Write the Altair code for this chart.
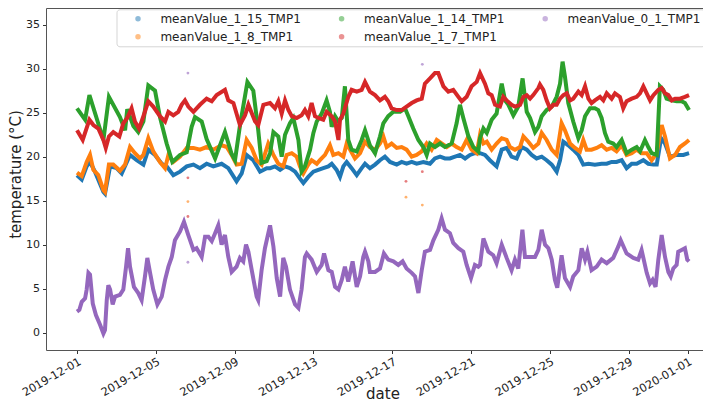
import altair as alt
import pandas as pd

SERIES = ["meanValue_1_15_TMP1", "meanValue_1_8_TMP1", "meanValue_1_14_TMP1",
          "meanValue_1_7_TMP1", "meanValue_0_1_TMP1"]
COLORS = ["#1f77b4", "#ff7f0e", "#2ca02c", "#d62728", "#9467bd"]

X_TICKS = ["2019-12-01", "2019-12-05", "2019-12-09", "2019-12-13", "2019-12-17",
           "2019-12-21", "2019-12-25", "2019-12-29", "2020-01-01"]
Y_TICKS = [0, 5, 10, 15, 20, 25, 30, 35]

# (days since 2019-12-01 00:00, temperature °C)
s_1_15 = [(0, 17.9), (0.24, 17.4), (0.49, 18.9), (0.66, 19.4), (0.91, 18.3), (1.34, 16.0),
          (1.42, 15.8), (1.68, 18.9), (2.01, 18.7), (2.27, 18.1), (2.69, 20.2), (3.03, 19.6),
          (3.37, 19.1), (3.62, 20.8), (3.96, 20.2), (4.30, 19.2), (4.55, 18.9), (4.89, 17.9),
          (5.23, 18.3), (5.57, 18.9), (5.91, 19.1), (6.24, 18.7), (6.58, 19.2), (6.92, 18.9),
          (7.34, 19.2), (7.68, 18.7), (8.10, 17.2), (8.36, 18.1), (8.61, 20.2), (8.95, 19.6),
          (9.29, 18.3), (9.63, 18.7), (9.80, 18.7), (10.05, 18.9), (10.31, 18.5), (10.56, 18.9),
          (10.81, 18.7), (11.07, 18.3), (11.32, 17.5), (11.49, 17.0), (11.74, 17.7), (12.00, 18.3),
          (12.25, 18.5), (12.50, 18.7), (12.76, 18.9), (12.93, 19.2), (13.18, 18.5), (13.35, 17.7),
          (13.52, 18.9), (13.69, 19.4), (13.94, 18.7), (14.20, 17.9), (14.45, 18.7), (14.62, 19.2),
          (14.87, 18.7), (15.13, 19.1), (15.38, 19.6), (15.63, 20.0), (15.89, 19.4), (16.23, 19.1),
          (16.48, 19.4), (16.73, 19.2), (16.99, 19.4), (17.24, 19.2), (17.58, 19.4), (17.92, 19.2),
          (18.17, 19.8), (18.43, 20.0), (18.68, 19.8), (18.93, 19.8), (19.19, 20.0), (19.44, 20.2),
          (19.70, 19.8), (19.95, 20.2), (20.20, 20.4), (20.46, 20.4), (20.71, 20.2), (20.96, 19.6),
          (21.30, 18.9), (21.56, 20.8), (21.81, 21.0), (22.06, 20.0), (22.32, 19.8), (22.57, 21.1),
          (22.83, 20.8), (23.08, 20.2), (23.33, 19.8), (23.59, 20.0), (23.84, 19.6), (24.10, 19.1),
          (24.35, 18.3), (24.52, 19.6), (24.69, 21.7), (24.94, 21.3), (25.19, 20.8), (25.45, 20.2),
          (25.70, 19.1), (25.96, 19.2), (26.29, 19.1), (26.63, 19.2), (26.89, 19.2), (27.14, 19.4),
          (27.39, 19.4), (27.65, 19.6), (27.90, 18.7), (28.16, 19.2), (28.41, 19.2), (28.75, 19.6),
          (29.00, 19.2), (29.26, 19.1), (29.43, 19.1), (29.65, 22.1), (29.85, 21.5), (30.10, 20.0),
          (30.44, 20.2), (30.78, 20.2), (31.07, 20.4)]

s_1_8 = [(0, 18.2), (0.24, 17.8), (0.49, 19.4), (0.66, 20.2), (0.83, 18.5), (1.08, 17.9),
         (1.34, 16.2), (1.42, 16.0), (1.62, 19.1), (1.84, 19.1), (2.18, 18.4), (2.44, 19.1),
         (2.69, 21.1), (2.94, 20.4), (3.20, 19.8), (3.37, 20.2), (3.62, 22.1), (3.87, 20.6),
         (4.21, 19.4), (4.47, 18.7), (4.64, 20.2), (4.89, 19.4), (5.23, 20.0), (5.57, 21.0),
         (5.91, 21.0), (6.24, 20.8), (6.58, 21.1), (6.92, 20.8), (7.34, 21.3), (7.60, 21.1),
         (7.85, 20.2), (8.10, 19.1), (8.36, 19.2), (8.61, 21.9), (8.87, 21.0), (9.12, 19.6),
         (9.37, 19.1), (9.71, 21.5), (9.80, 21.1), (9.97, 20.2), (10.22, 19.2), (10.47, 18.9),
         (10.64, 20.2), (10.90, 20.4), (11.15, 20.0), (11.32, 18.9), (11.49, 18.1), (11.74, 19.1),
         (11.91, 19.6), (12.17, 19.2), (12.33, 19.6), (12.59, 20.2), (12.84, 21.3), (13.01, 20.2),
         (13.27, 20.4), (13.52, 20.0), (13.69, 21.5), (13.86, 20.8), (14.11, 19.8), (14.37, 20.4),
         (14.62, 21.7), (14.87, 21.1), (15.13, 20.8), (15.38, 21.5), (15.55, 22.3), (15.72, 21.1),
         (15.97, 21.5), (16.23, 21.0), (16.48, 21.1), (16.73, 20.8), (16.99, 20.0), (17.24, 20.2),
         (17.50, 20.6), (17.75, 21.5), (18.00, 20.8), (18.26, 21.9), (18.51, 21.5), (18.77, 21.1),
         (19.02, 21.5), (19.27, 21.1), (19.53, 20.8), (19.78, 21.9), (20.03, 20.8), (20.29, 20.4),
         (20.46, 22.5), (20.63, 21.5), (20.80, 21.7), (21.05, 20.8), (21.30, 21.5), (21.56, 22.1),
         (21.81, 21.9), (21.98, 21.1), (22.23, 20.8), (22.49, 21.1), (22.66, 22.3), (22.91, 21.7),
         (23.16, 21.0), (23.42, 21.5), (23.59, 22.7), (23.84, 21.9), (24.10, 20.8), (24.35, 20.2),
         (24.60, 23.8), (24.77, 23.0), (25.03, 21.5), (25.28, 21.0), (25.53, 20.6), (25.70, 21.9),
         (25.87, 20.8), (26.12, 20.8), (26.38, 21.0), (26.63, 21.3), (26.89, 20.8), (27.14, 21.0),
         (27.39, 20.6), (27.65, 21.3), (27.90, 20.2), (28.16, 20.4), (28.41, 20.8), (28.66, 20.4),
         (28.92, 20.4), (29.17, 19.6), (29.43, 20.4), (29.68, 23.6), (29.85, 22.3), (30.10, 19.8),
         (30.36, 20.2), (30.61, 21.1), (30.86, 21.5), (31.07, 21.9)]

s_1_14 = [(0, 25.5), (0.41, 24.2), (0.63, 27.0), (1.34, 21.9), (1.62, 26.8), (2.18, 24.5),
          (2.44, 23.0), (2.55, 25.4), (2.86, 23.5), (3.11, 22.8), (3.37, 24.0), (3.62, 28.1),
          (3.96, 27.5), (4.21, 24.5), (4.55, 21.5), (4.84, 19.4), (5.23, 20.2), (5.57, 20.5),
          (5.82, 23.4), (5.99, 24.5), (6.33, 24.0), (6.58, 22.0), (7.01, 19.8), (7.51, 22.8),
          (7.85, 20.3), (8.02, 19.6), (8.27, 23.5), (8.65, 28.5), (8.95, 27.5), (9.20, 23.0),
          (9.37, 19.3), (9.63, 19.5), (9.80, 20.4), (9.97, 22.8), (10.22, 22.3), (10.39, 20.0),
          (10.56, 22.5), (10.81, 23.8), (10.98, 24.4), (11.24, 21.9), (11.40, 18.3), (11.57, 18.9),
          (11.83, 20.8), (12.00, 22.7), (12.17, 24.0), (12.42, 24.9), (12.67, 26.4), (12.84, 25.1),
          (12.93, 23.4), (13.10, 24.6), (13.27, 24.0), (13.44, 24.4), (13.60, 28.0), (13.77, 21.9),
          (13.94, 20.8), (14.20, 20.6), (14.45, 21.9), (14.62, 23.0), (14.87, 21.3), (15.13, 20.4),
          (15.38, 22.3), (15.55, 23.8), (15.80, 24.6), (16.06, 25.1), (16.40, 25.1), (16.65, 25.5),
          (16.82, 24.6), (17.07, 23.2), (17.33, 21.9), (17.58, 21.1), (17.75, 20.2), (17.92, 21.5),
          (18.17, 21.1), (18.43, 21.5), (18.68, 21.1), (19.02, 21.5), (19.27, 23.8), (19.44, 25.9),
          (19.61, 24.4), (19.87, 22.3), (20.12, 21.1), (20.37, 20.6), (20.46, 22.1), (20.63, 23.2),
          (20.80, 22.7), (21.05, 24.2), (21.30, 24.9), (21.56, 28.3), (21.73, 26.4), (21.90, 25.9),
          (22.15, 24.7), (22.40, 25.7), (22.62, 28.9), (22.83, 25.1), (23.00, 24.4), (23.25, 22.8),
          (23.42, 23.4), (23.59, 24.6), (23.84, 25.3), (24.10, 25.7), (24.35, 26.8), (24.52, 28.3),
          (24.65, 30.8), (24.77, 29.1), (24.94, 26.1), (25.19, 24.0), (25.45, 22.1), (25.62, 23.0),
          (25.79, 24.6), (26.04, 25.5), (26.29, 25.5), (26.46, 25.3), (26.63, 24.4), (26.80, 22.7),
          (26.97, 21.7), (27.22, 21.5), (27.39, 21.1), (27.65, 21.9), (27.90, 20.4), (28.16, 20.8),
          (28.41, 21.1), (28.58, 20.6), (28.83, 21.9), (29.00, 21.1), (29.17, 20.4), (29.43, 20.2),
          (29.59, 28.0), (29.76, 27.6), (29.93, 26.6), (30.19, 26.4), (30.44, 26.3), (30.69, 26.3),
          (30.86, 26.1), (31.07, 25.3)]

s_1_7 = [(0, 23.0), (0.29, 21.9), (0.63, 24.2), (0.83, 23.6), (1.08, 23.2), (1.34, 21.9),
         (1.46, 21.0), (1.62, 22.3), (1.84, 22.8), (2.15, 22.3), (2.35, 23.8), (2.55, 24.4),
         (2.77, 25.5), (2.94, 24.0), (3.15, 23.2), (3.37, 24.6), (3.62, 26.3), (3.87, 25.7),
         (4.21, 24.6), (4.47, 24.0), (4.64, 25.1), (4.89, 24.7), (5.14, 25.1), (5.31, 25.9),
         (5.48, 26.4), (5.65, 25.7), (5.91, 25.1), (6.24, 25.9), (6.58, 26.6), (6.84, 26.3),
         (7.09, 27.0), (7.51, 27.6), (7.68, 26.4), (7.94, 26.1), (8.19, 24.2), (8.27, 23.6),
         (8.53, 24.7), (8.70, 25.9), (9.04, 24.0), (9.20, 23.6), (9.46, 25.9), (9.80, 26.1),
         (10.05, 25.5), (10.22, 26.3), (10.39, 24.9), (10.56, 26.4), (10.73, 25.3), (10.90, 24.6),
         (11.15, 24.4), (11.40, 24.7), (11.57, 25.3), (11.74, 24.6), (11.91, 26.1), (12.08, 24.6),
         (12.25, 24.4), (12.50, 24.2), (12.67, 25.1), (12.93, 24.6), (13.10, 24.0), (13.27, 21.9),
         (13.35, 24.2), (13.52, 24.9), (13.77, 26.8), (13.94, 27.6), (14.20, 27.4), (14.45, 27.6),
         (14.62, 28.5), (14.87, 27.4), (15.13, 27.0), (15.38, 26.4), (15.63, 26.8), (15.80, 26.3),
         (15.97, 25.5), (16.23, 25.3), (16.48, 25.3), (16.73, 25.7), (16.99, 26.1), (17.24, 26.4),
         (17.50, 26.6), (17.66, 28.3), (17.92, 28.9), (18.17, 29.5), (18.34, 29.5), (18.60, 28.0),
         (18.85, 27.4), (19.10, 27.6), (19.36, 26.8), (19.53, 26.3), (19.78, 26.8), (20.03, 28.0),
         (20.29, 28.5), (20.46, 29.5), (20.71, 28.3), (20.88, 27.2), (21.05, 27.0), (21.22, 25.9),
         (21.47, 25.7), (21.64, 26.8), (21.81, 26.4), (22.06, 25.9), (22.23, 25.7), (22.49, 25.9),
         (22.66, 26.8), (22.83, 27.0), (23.00, 26.6), (23.16, 27.0), (23.42, 27.8), (23.50, 28.2),
         (23.67, 27.6), (23.84, 26.4), (24.01, 25.5), (24.18, 25.9), (24.35, 25.9), (24.52, 26.6),
         (24.69, 27.0), (24.86, 27.2), (25.03, 26.4), (25.19, 26.6), (25.45, 27.4), (25.62, 27.0),
         (25.79, 28.0), (25.96, 26.6), (26.12, 26.1), (26.29, 26.4), (26.55, 26.8), (26.72, 26.4),
         (26.89, 27.2), (27.14, 26.6), (27.31, 27.2), (27.56, 26.8), (27.73, 25.5), (27.90, 26.3),
         (28.16, 26.6), (28.41, 26.8), (28.58, 27.2), (28.75, 28.0), (28.92, 27.2), (29.09, 26.4),
         (29.26, 27.0), (29.51, 27.6), (29.68, 27.8), (29.85, 27.2), (30.02, 27.0), (30.19, 26.4),
         (30.36, 26.6), (30.61, 26.6), (30.86, 26.8), (31.07, 27.0)]

s_0_1 = [(0, 2.4), (0.12, 2.6), (0.24, 3.5), (0.41, 3.9), (0.49, 4.9), (0.58, 6.8), (0.66, 6.6),
         (0.80, 3.3), (0.96, 2.0), (1.17, 0.9), (1.34, -0.1), (1.42, 0.3), (1.51, 3.7), (1.59, 5.4),
         (1.68, 4.9), (1.81, 3.2), (1.93, 4.1), (2.18, 4.3), (2.35, 4.9), (2.49, 7.5), (2.59, 9.6),
         (2.69, 7.5), (2.89, 5.2), (3.11, 4.5), (3.28, 3.7), (3.45, 6.4), (3.57, 8.5), (3.70, 6.9),
         (3.87, 4.9), (4.08, 3.2), (4.30, 4.1), (4.47, 6.0), (4.64, 7.5), (4.81, 8.6), (4.97, 10.5),
         (5.23, 11.5), (5.43, 12.6), (5.65, 11.1), (5.91, 9.4), (6.07, 9.6), (6.33, 8.6), (6.50, 10.9),
         (6.67, 10.9), (6.84, 10.4), (7.01, 11.3), (7.17, 12.2), (7.34, 10.0), (7.51, 11.1),
         (7.68, 8.6), (7.85, 6.9), (8.10, 7.5), (8.27, 8.5), (8.44, 8.1), (8.58, 10.0), (8.70, 9.2),
         (8.87, 7.1), (9.12, 4.1), (9.20, 3.7), (9.37, 7.1), (9.54, 9.6), (9.80, 12.2), (9.97, 9.8),
         (10.14, 6.2), (10.31, 4.1), (10.47, 8.5), (10.61, 7.5), (10.81, 4.9), (11.07, 3.2),
         (11.24, 2.8), (11.40, 4.9), (11.57, 8.6), (11.66, 9.0), (11.91, 8.3), (12.17, 6.9),
         (12.42, 7.7), (12.54, 9.0), (12.76, 7.1), (12.93, 6.9), (13.10, 5.2), (13.27, 4.9),
         (13.44, 6.0), (13.60, 7.5), (13.77, 5.8), (13.99, 8.1), (14.20, 5.2), (14.37, 6.4),
         (14.53, 8.6), (14.62, 9.2), (14.79, 8.1), (14.87, 6.9), (15.13, 6.9), (15.38, 7.3),
         (15.58, 9.0), (15.80, 8.3), (16.06, 8.1), (16.31, 7.7), (16.53, 8.1), (16.73, 7.3),
         (16.99, 6.8), (17.16, 6.4), (17.33, 4.5), (17.50, 7.1), (17.66, 9.2), (17.92, 9.4),
         (18.09, 10.5), (18.34, 11.7), (18.51, 13.0), (18.68, 11.7), (18.93, 11.3), (19.10, 10.2),
         (19.36, 9.6), (19.61, 9.2), (19.78, 7.7), (20.00, 6.2), (20.20, 7.7), (20.37, 7.5),
         (20.46, 7.7), (20.63, 10.7), (20.88, 9.2), (21.13, 8.8), (21.30, 7.9), (21.56, 10.0),
         (21.81, 8.5), (22.06, 7.1), (22.23, 8.3), (22.40, 7.3), (22.61, 11.7), (22.74, 8.6),
         (23.00, 8.6), (23.25, 8.6), (23.42, 9.4), (23.59, 11.7), (23.76, 10.0), (23.93, 9.6),
         (24.10, 8.3), (24.26, 6.0), (24.38, 5.1), (24.60, 8.8), (24.77, 6.2), (25.03, 5.2),
         (25.19, 6.4), (25.45, 7.1), (25.62, 9.6), (25.79, 8.3), (25.91, 9.2), (26.12, 7.1),
         (26.38, 7.5), (26.63, 8.3), (26.89, 7.9), (27.22, 8.5), (27.48, 9.8), (27.60, 10.5),
         (27.90, 9.0), (28.24, 8.5), (28.49, 8.3), (28.66, 9.4), (28.92, 6.8), (29.09, 5.6),
         (29.22, 6.0), (29.37, 5.2), (29.51, 8.3), (29.68, 11.1), (29.85, 8.6), (30.02, 6.9),
         (30.14, 6.4), (30.27, 7.3), (30.44, 7.7), (30.52, 9.2), (30.69, 9.4), (30.86, 9.6),
         (30.98, 8.3), (31.07, 8.1)]

# isolated stray readings (days, °C, series)
stray = [(5.63, 29.5, SERIES[4]), (5.63, 17.6, SERIES[3]), (5.63, 14.9, SERIES[1]),
         (5.63, 13.2, SERIES[3]), (5.63, 8.0, SERIES[4]), (16.70, 17.2, SERIES[3]),
         (16.70, 15.4, SERIES[1]), (17.53, 30.5, SERIES[4]), (17.53, 18.3, SERIES[3]),
         (17.53, 14.5, SERIES[1])]

t0 = pd.Timestamp("2019-12-01 00:00")
rows = []
for name, pts in zip(SERIES, [s_1_15, s_1_8, s_1_14, s_1_7, s_0_1]):
    for d, v in pts:
        rows.append({"series": name, "date": t0 + pd.Timedelta(days=d), "temp": v})
df = pd.DataFrame(rows)
df_stray = pd.DataFrame([{"series": s, "date": t0 + pd.Timedelta(days=d), "temp": v}
                         for d, v, s in stray])

FONT = "DejaVu Sans"
SPINE = "#555"
x_scale = alt.Scale(domain=[alt.DateTime(year=2019, month=11, date=29, hours=10, minutes=13),
                            alt.DateTime(year=2020, month=1, date=2, hours=14, minutes=10)])

x_enc = alt.X(
    "date:T", scale=x_scale,
    axis=alt.Axis(
        values=[alt.DateTime(year=int(t[:4]), month=int(t[5:7]), date=int(t[8:])) for t in X_TICKS],
        format="%Y-%m-%d", labelAngle=330, labelAlign="right", labelBaseline="top",
        labelFontSize=11.3, labelPadding=2, labelOverlap=False, labelFlush=False,
        title="date", titleFontSize=15, titleFontWeight="normal", titleY=48,
        titleBaseline="alphabetic", grid=False, domain=True, domainColor=SPINE,
        tickSize=3.5, tickColor="#333", labelColor="#222", titleColor="#222",
        labelFont=FONT, titleFont=FONT,
    ),
)
# top frame line only
x_top = alt.X(
    "date:T", scale=x_scale,
    axis=alt.Axis(orient="top", labels=False, ticks=False, title=None, grid=False,
                  domain=True, domainColor=SPINE),
)
y_enc = alt.Y(
    "temp:Q",
    scale=alt.Scale(domain=[-1.97, 36.9], nice=False, zero=False),
    axis=alt.Axis(
        values=Y_TICKS, labelFontSize=11, labelPadding=3, grid=False,
        domain=True, domainColor=SPINE,
        tickSize=3.5, tickColor="#333", labelColor="#222", titleColor="#222",
        title="temperature (°C)", titleFontSize=15, titleFontWeight="normal",
        titleAngle=270, titleX=-25.5, titleY=166, titleAlign="center",
        titleBaseline="alphabetic", labelFont=FONT, titleFont=FONT,
    ),
)

# stroke scale uses a different domain ordering so it is not merged with the legend
stroke_scale = alt.Scale(domain=SERIES[::-1], range=COLORS[::-1])


def line_layer(s, x):
    return alt.Chart(df).transform_filter(alt.datum.series == s).mark_line(strokeWidth=4).encode(
        x=x, y=y_enc,
        stroke=alt.Stroke("series:N", scale=stroke_scale, legend=None),
    )


first = line_layer(SERIES[0], x_top)
rest = [line_layer(s, x_enc) for s in SERIES[1:]]

points = alt.Chart(df_stray).mark_circle(size=8, opacity=0.6).encode(
    x=x_enc, y=y_enc,
    color=alt.Color(
        "series:N",
        scale=alt.Scale(domain=SERIES, range=COLORS),
        legend=alt.Legend(
            title=None, orient="none", legendX=70.5, legendY=1.3, columns=3, gridAlign="all",
            symbolType="circle", symbolSize=30, symbolOpacity=0.5, symbolStrokeWidth=0,
            labelFontSize=12, labelFont=FONT, labelColor="#222", labelLimit=220,
            labelOffset=16.4, symbolOffset=12, columnPadding=22.6, rowPadding=6,
            padding=3.5, fillColor="white", strokeColor="#d5d5d5", cornerRadius=3,
        ),
    ),
)

chart = alt.layer(first, alt.layer(*rest, points)).resolve_axis(x="independent").properties(
    width=673, height=342,
    padding={"left": 38, "top": 0, "right": -16, "bottom": 53},
    autosize=alt.AutoSizeParams(type="none"),
).configure_view(stroke=None)

chart.save("out.html", embed_options={"renderer": "svg", "actions": False})
